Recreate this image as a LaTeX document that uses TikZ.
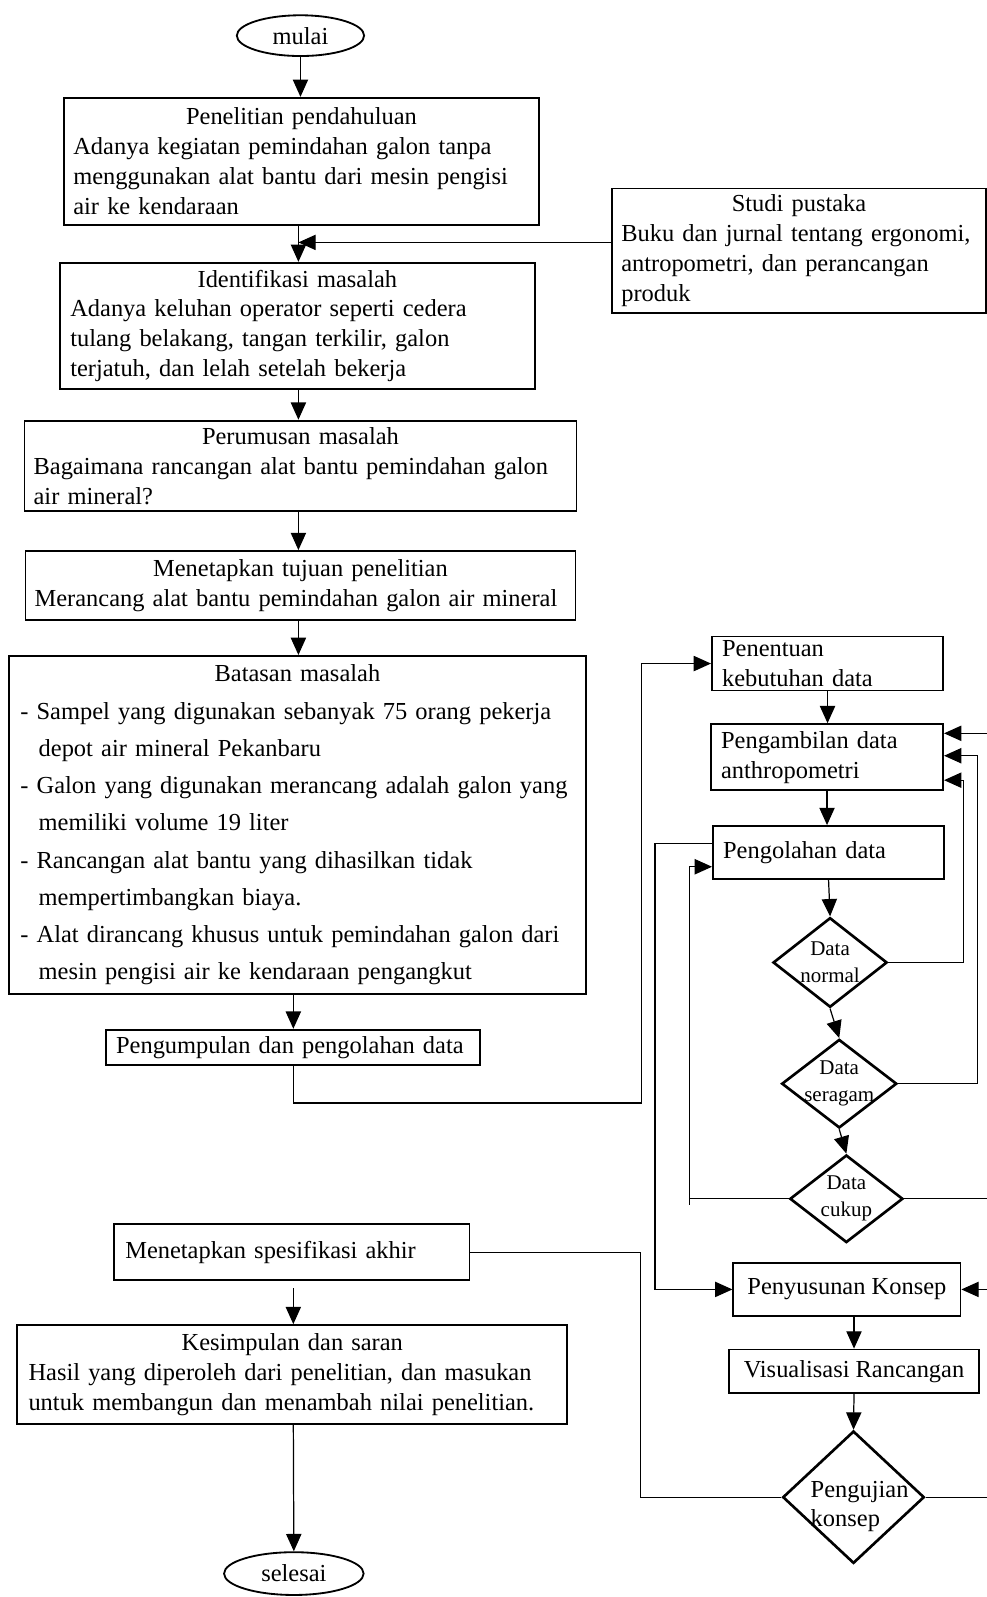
\documentclass[tikz,border=0pt]{standalone}
\usepackage{fontspec}
\setmainfont{Liberation Serif}
\usetikzlibrary{arrows.meta,calc,shapes.geometric}

\begin{document}
\begin{tikzpicture}[
  x=0.5pt,
  y=-0.5pt,
  box/.style={draw, line width=0.9pt, rectangle, align=left, inner ysep=0pt,
    font=\fontsize{12}{14.7}\selectfont},
  tall/.style={font=\fontsize{12}{18.3}\selectfont},
  terminal/.style={draw, line width=0.9pt, ellipse, inner sep=0pt,
    font=\fontsize{12}{14.7}\selectfont},
  decision/.style={draw, line width=1.3pt, diamond, inner sep=0pt},
  decision-text/.style={align=center, inner sep=0pt,
    font=\fontsize{10.3}{13.3}\selectfont},
  wire/.style={line width=0.6pt},
  flow/.style={wire, -{Triangle[length=8.5pt,width=7.5pt]}},
  ]
  \useasboundingbox (0,0) rectangle (969,1568);
  \coordinate (spine) at (293,0);
  \coordinate (spine-low) at (288,0);
  \coordinate (join) at (293,238);
  \coordinate (rim) at (969,0);

  \node [terminal, minimum width=62.5pt, minimum height=20pt] (start) at (295,35) {mulai};
  \node [box, inner xsep=4.5pt, text width=224pt, minimum height=62.5pt] (intro) at (296,158.5) {
    \makebox[\linewidth]{Penelitian pendahuluan}\\
    Adanya kegiatan pemindahan galon tanpa\\
    menggunakan alat bantu dari mesin pengisi\\
    air ke kendaraan
  };
  \node [box, inner xsep=4.5pt, text width=174.5pt, minimum height=61pt] (study) at (784.5,246) {
    \makebox[\linewidth]{Studi pustaka}\\
    Buku dan jurnal tentang ergonomi,\\
    antropometri, dan perancangan\\
    produk
  };
  \node [box, inner xsep=5pt, text width=223pt, minimum height=62pt] (problem-id) at (292,320) {
    \makebox[\linewidth]{Identifikasi masalah}\\
    Adanya keluhan operator seperti cedera\\
    tulang belakang, tangan terkilir, galon\\
    terjatuh, dan lelah setelah bekerja
  };
  \node [box, inner xsep=4.5pt, text width=262pt, minimum height=44.5pt] (problem-form) at (295,457.5) {
    \makebox[\linewidth]{Perumusan masalah}\\
    Bagaimana rancangan alat bantu pemindahan galon\\
    air mineral?
  };
  \node [box, inner xsep=4.5pt, text width=261pt, minimum height=34pt] (goal) at (295,575) {
    \makebox[\linewidth]{Menetapkan tujuan penelitian}\\
    Merancang alat bantu pemindahan galon air mineral
  };
  \node [box, tall, inner xsep=5.5pt, text width=272pt, minimum height=166pt] (limits) at (292,810) {
    \makebox[\linewidth]{Batasan masalah}\\
    - Sampel yang digunakan sebanyak 75 orang pekerja\\
    \hspace*{9pt}depot air mineral Pekanbaru\\
    - Galon yang digunakan merancang adalah galon yang\\
    \hspace*{9pt}memiliki volume 19 liter\\
    - Rancangan alat bantu yang dihasilkan tidak\\
    \hspace*{9pt}mempertimbangkan biaya.\\
    - Alat dirancang khusus untuk pemindahan galon dari\\
    \hspace*{9pt}mesin pengisi air ke kendaraan pengangkut
  };
  \node [box, inner xsep=5pt, text width=173.5pt, minimum height=17.5pt] (collect) at (287.5,1028.5) {Pengumpulan dan pengolahan data};
  \node [box, inner xsep=5.5pt, text width=163.5pt, minimum height=27.5pt] (spec) at (286.5,1229.5) {Menetapkan spesifikasi akhir};
  \node [box, inner xsep=5.5pt, text width=259pt, minimum height=48.5pt] (conclusion) at (287,1349.5) {
    \makebox[\linewidth]{Kesimpulan dan saran}\\
    Hasil yang diperoleh dari penelitian, dan masukan\\
    untuk membangun dan menambah nilai penelitian.
  };
  \node [terminal, minimum width=68.5pt, minimum height=21pt] (finish) at (288.5,1545) {selesai};

  \node [box, inner xsep=5pt, text width=103.5pt, minimum height=26.5pt] (data-need) at (812.5,651.5) {Penentuan\\kebutuhan data};
  \node [box, inner xsep=5pt, text width=104pt, minimum height=32.5pt] (data-take) at (812,743.5) {Pengambilan data\\anthropometri};
  \node [box, inner xsep=5pt, text width=103.5pt, minimum height=26pt] (data-proc) at (813.5,837) {Pengolahan data};
  \node [decision, minimum width=56pt, minimum height=44pt] (test-normal) at (815,945) {};
  \node [decision-text] (test-normal-text) at (test-normal) {Data\\normal};
  \node [decision, minimum width=56.5pt, minimum height=43.5pt] (test-uniform) at (824,1064) {};
  \node [decision-text] (test-uniform-text) at (test-uniform) {Data\\seragam};
  \node [decision, minimum width=55.5pt, minimum height=43pt] (test-enough) at (831,1177) {};
  \node [decision-text] (test-enough-text) at (test-enough) {Data\\cukup};
  \node [box, align=center, inner xsep=0pt, minimum width=111.5pt, minimum height=26pt] (concept) at (831.5,1266) {Penyusunan Konsep};
  \node [box, align=center, inner xsep=0pt, minimum width=122.5pt, minimum height=21.5pt] (visual) at (838.5,1346.5) {Visualisasi Rancangan};
  \node [decision, minimum width=69.5pt, minimum height=65pt] (concept-test) at (838,1470) {};
  \node [decision-text, align=left, font=\fontsize{12}{14.5}\selectfont] (concept-test-text) at ($(concept-test)+(6,9)$) {Pengujian\\konsep};

  \coordinate (take-in-a) at ($(data-take.east)+(0,-23.5)$);
  \coordinate (take-in-b) at ($(data-take.east)+(0,-1.5)$);
  \coordinate (take-in-c) at ($(data-take.east)+(0,22.5)$);
  \coordinate (proc-in) at ($(data-proc.west)+(0,14)$);
  \coordinate (proc-out) at ($(data-proc.west)+(0,-9)$);

  \draw [flow] (start.south) -- (start.south |- intro.north);
  \draw [flow] (intro.south -| spine) -- (problem-id.north -| spine);
  \draw [flow] (study.west |- join) -- (join);
  \draw [flow] (problem-id.south -| spine) -- (problem-form.north -| spine);
  \draw [flow] (problem-form.south -| spine) -- (goal.north -| spine);
  \draw [flow] (goal.south -| spine) -- (limits.north -| spine);
  \draw [flow] (limits.south -| spine-low) -- (collect.north -| spine-low);
  \draw [flow] (collect.south -| spine-low) -- ++(0,36) -| ($(data-need.west)+(-68,0)$) -- (data-need.west);
  \draw [flow] (data-need.south) -- (data-need.south |- data-take.north);
  \draw [flow] (data-take.south) -- (data-take.south |- data-proc.north);
  \draw [flow] (data-proc.south) -- (test-normal.north);
  \draw [flow] (test-normal.south) -- (test-uniform.north);
  \draw [flow] (test-uniform.south) -- (test-enough.north);
  \draw [flow] (test-normal.east) -- ++(74,0) |- (take-in-c);
  \draw [flow] (test-uniform.east) -- ++(78,0) |- (take-in-b);
  \draw [wire] (test-enough.east) -- (test-enough.east -| rim);
  \draw [flow] (take-in-a -| rim) -- (take-in-a);
  \draw [flow] (test-enough.west) -- ++(-97,0) coordinate (tick) -- ++(0,6) -- (tick) |- (proc-in);
  \draw [flow] (proc-out) -- ++(-56,0) |- (concept.west);
  \draw [flow] (visual.north |- concept.south) -- (visual.north);
  \draw [flow] (visual.south) -- (concept-test.north);
  \draw [wire] (concept-test.west) -- ++(-138,0) |- (spec.east);
  \draw [wire] (concept-test.east) -- (concept-test.east -| rim);
  \draw [flow] (concept.east -| rim) -- (concept.east);
  \draw [flow, shorten <=3.5pt] (spec.south -| spine-low) -- (conclusion.north -| spine-low);
  \draw [flow] (conclusion.south -| spine-low) -- (finish.north);
\end{tikzpicture}
\end{document}
